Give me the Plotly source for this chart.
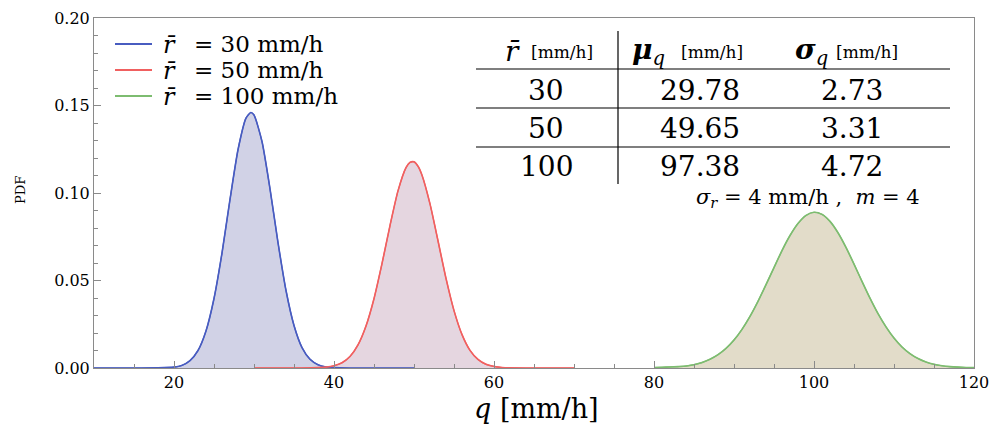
import plotly.graph_objects as go

# ---- data ----
q_blue = [10, 18, 20, 21, 22, 23, 24, 25, 26, 27, 28, 29, 29.6, 30, 31, 32, 33, 34, 35, 36, 37, 38, 39, 40, 42, 50]
pdf_blue = [0.0, 0.0001, 0.0005, 0.0015, 0.0042, 0.0100, 0.0212, 0.0397, 0.0657, 0.0963, 0.1247, 0.1428, 0.1460,
            0.1446, 0.1294, 0.1024, 0.0717, 0.0443, 0.0243, 0.0117, 0.0050, 0.0019, 0.0006, 0.0002, 0.0, 0.0]

q_red = [30, 36, 38, 39, 40, 41, 42, 43, 44, 45, 46, 47, 48, 49, 49.5, 50, 50.5, 51, 52, 53, 54, 55, 56, 57, 58, 59,
         60, 61, 62, 64, 70]
pdf_red = [0.0, 0.0, 0.0002, 0.0005, 0.0013, 0.0030, 0.0066, 0.0132, 0.0240, 0.0396, 0.0596, 0.0814, 0.1012, 0.1145,
           0.1175, 0.1178, 0.1153, 0.1102, 0.0938, 0.0727, 0.0512, 0.0328, 0.0191, 0.0101, 0.0049, 0.0021, 0.0009,
           0.0003, 0.0001, 0.0, 0.0]

q_green = [80, 81, 82, 83, 84, 85, 86, 87, 88, 89, 90, 91, 92, 93, 94, 95, 96, 97, 98, 99, 100, 101, 102, 103, 104,
           105, 106, 107, 108, 109, 110, 111, 112, 113, 114, 115, 116, 117, 118, 119, 120]
pdf_green = [0.0003, 0.0004, 0.0006, 0.0008, 0.0011, 0.0019, 0.0031, 0.0050, 0.0076, 0.0112, 0.0160, 0.0221, 0.0295,
             0.0381, 0.0476, 0.0574, 0.0671, 0.0757, 0.0826, 0.0872, 0.0890, 0.0878, 0.0838, 0.0773, 0.0689, 0.0594,
             0.0495, 0.0399, 0.0311, 0.0235, 0.0171, 0.0120, 0.0082, 0.0054, 0.0034, 0.0021, 0.0013, 0.0008, 0.0005,
             0.0003, 0.0002]

legend_symbol = "<i>r̄</i>"
legend_values = ["= 30 mm/h", "= 50 mm/h", "= 100 mm/h"]

table_header = ["<i>r̄</i>",
                "<b><i>μ</i></b><sub><i>q</i></sub>",
                "<b><i>σ</i></b><sub><i>q</i></sub>"]
table_unit = "[mm/h]"
table_r = ["30", "50", "100"]
table_mu = ["29.78", "49.65", "97.38"]
table_sigma = ["2.73", "3.31", "4.72"]
note_text = "<i>σ</i><sub><i>r</i></sub> = 4 mm/h ,  <i>m</i> = 4"
x_title = "<i>q</i> [mm/h]"
y_title = "PDF"

line_colors = ["rgb(72,92,192)", "rgb(240,96,96)", "rgb(125,188,112)"]
fill_colors = ["rgba(180,183,214,0.62)", "rgba(208,180,198,0.55)", "rgba(205,194,162,0.58)"]

FONT = "DejaVu Serif"
L, T, W, H = 94, 18, 880, 350   # plot area in pixels


def PX(px):
    return (px - L) / W


def PY(py):
    return (T + H - py) / H


fig = go.Figure()
series = [(q_blue, pdf_blue), (q_red, pdf_red), (q_green, pdf_green)]
for (xs, ys), lc, fc in zip(series, line_colors, fill_colors):
    fig.add_trace(go.Scatter(x=xs, y=ys, mode="lines", fill="tozeroy", fillcolor=fc,
                             line=dict(color=lc, width=1.2, shape="spline", smoothing=0.6),
                             showlegend=False, hoverinfo="skip"))
for (xs, ys), lc in zip(series, line_colors):
    fig.add_trace(go.Scatter(x=xs, y=ys, mode="lines", showlegend=False,
                             line=dict(color=lc, width=1.6, shape="spline", smoothing=0.6)))


def text(x, y, s, size, xanchor="center", angle=0):
    fig.add_annotation(x=x, y=y, text=s, showarrow=False, xref="paper", yref="paper",
                       xanchor=xanchor, yanchor="middle", textangle=angle,
                       font=dict(family=FONT, size=size, color="black"))


# manual legend
for ly, lc, val in zip([44, 70, 96], line_colors, legend_values):
    fig.add_shape(type="line", x0=PX(115), x1=PX(152), y0=PY(ly), y1=PY(ly), xref="paper", yref="paper",
                  line=dict(color=lc, width=2))
    text(PX(161), PY(ly + 1), legend_symbol, 24, "left")
    text(PX(192), PY(ly), val, 23, "left")

# table lines
tl = dict(color="black", width=1.2)
for ly in [69, 108, 147]:
    fig.add_shape(type="line", x0=PX(476), x1=PX(950), y0=PY(ly), y1=PY(ly), xref="paper", yref="paper", line=tl)
fig.add_shape(type="line", x0=PX(618), x1=PX(618), y0=PY(31), y1=PY(184), xref="paper", yref="paper", line=tl)

# table header
text(PX(503), PY(51), table_header[0], 28, "left")
text(PX(529), PY(52), table_unit, 17, "left")
text(PX(630), PY(51), table_header[1], 28, "left")
text(PX(679), PY(52), table_unit, 17, "left")
text(PX(793), PY(51), table_header[2], 28, "left")
text(PX(834), PY(52), table_unit, 17, "left")

# table body
row_y = [90, 128, 166]
for i in range(3):
    text(PX(546), PY(row_y[i]), table_r[i], 28)
    text(PX(700), PY(row_y[i]), table_mu[i], 28)
    text(PX(852), PY(row_y[i]), table_sigma[i], 28)

text(PX(808), PY(198), note_text, 21)
text(PX(536), PY(408), x_title, 27)
text(PX(20), PY(190), y_title, 13, angle=-90)

axis_common = dict(showline=True, linecolor="#8a8a8a", linewidth=1, mirror=True, showgrid=False,
                   zeroline=False, ticks="inside", ticklen=7, tickcolor="#8a8a8a", automargin=False,
                   tickfont=dict(family=FONT, size=16, color="black"))

fig.update_layout(
    width=997, height=425,
    margin=dict(l=L, r=997 - L - W, t=T, b=425 - T - H),
    paper_bgcolor="white", plot_bgcolor="white",
    xaxis=dict(range=[10, 120], tick0=0, dtick=20,
               minor=dict(dtick=5, ticks="inside", ticklen=4, tickcolor="#8a8a8a"),
               **axis_common),
    yaxis=dict(range=[0, 0.2], tick0=0, dtick=0.05, tickformat=".2f",
               minor=dict(dtick=0.01, ticks="inside", ticklen=4, tickcolor="#8a8a8a"),
               **axis_common),
    showlegend=False,
)

fig.write_html("out.html", config={"displayModeBar": False},
               post_script="document.body.style.margin='0';document.body.style.overflow='hidden';")
